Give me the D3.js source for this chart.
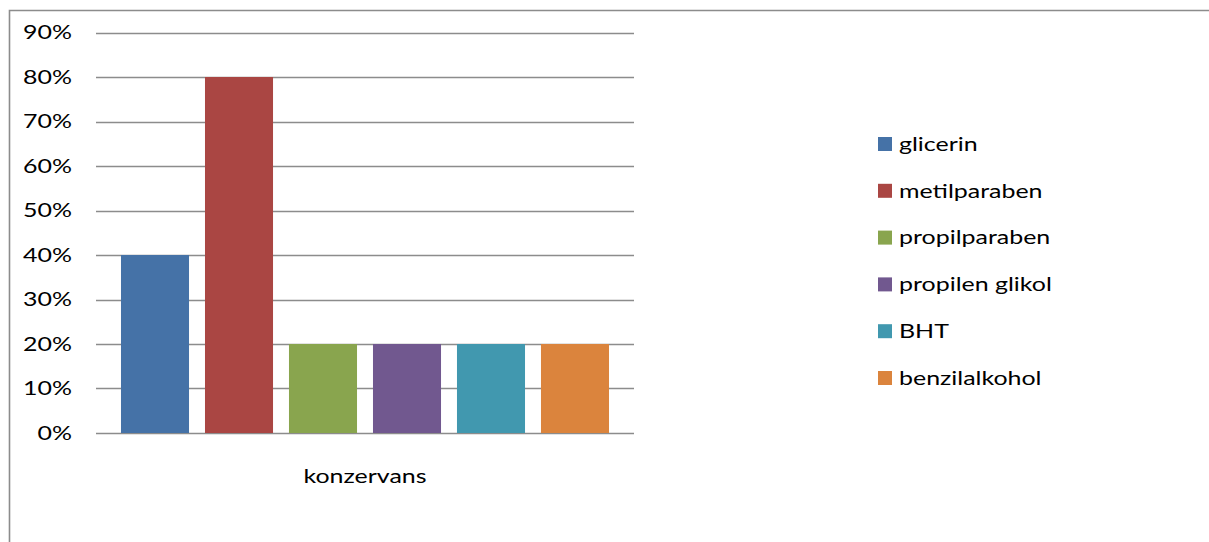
<!DOCTYPE html>
<html>
<head>
<meta charset="utf-8">
<script src="https://cdn.jsdelivr.net/npm/d3@7"></script>
<style>
  html, body { margin: 0; padding: 0; background: #fff; }
  svg { display: block; }
  text { font-family: Lato, "Open Sans", sans-serif; fill: #000; }
</style>
</head>
<body>
<svg id="chart" width="1209" height="542"></svg>
<script>
// Preservative usage shares (fraction of products)
const categories = ["konzervans"];
const seriesNames = ["glicerin", "metilparaben", "propilparaben", "propilen glikol", "BHT", "benzilalkohol"];
const seriesValues = [0.40, 0.80, 0.20, 0.20, 0.20, 0.20];
const seriesColors = ["#4572A7", "#AA4643", "#89A54E", "#71588F", "#4198AF", "#DB843D"];
const yTicks = [0, 0.1, 0.2, 0.3, 0.4, 0.5, 0.6, 0.7, 0.8, 0.9];

const svg = d3.select("#chart");
const plot = { left: 96, right: 634, top: 32.5, bottom: 433 };
const stretch = 1.28; // horizontal text widening
const fontSize = 19.5;

// outer frame (only top and left edges fall inside the view)
svg.append("path")
  .attr("d", "M9.5,560V10.5H1220")
  .attr("fill", "none").attr("stroke", "#8c8c8c").attr("stroke-width", 1.6);

const y = d3.scaleLinear().domain([0, 0.9]).range([plot.bottom, plot.top]);
const x0 = d3.scaleBand().domain(categories).range([plot.left, plot.right]).paddingOuter(0.0512).paddingInner(0);
const x1 = d3.scaleBand().domain(seriesNames).range([0, x0.bandwidth()]).paddingInner(0.19).paddingOuter(0);

// horizontal gridlines
svg.append("g").selectAll("line").data(yTicks).join("line")
  .attr("x1", plot.left).attr("x2", plot.right)
  .attr("y1", d => Math.round(y(d)) + 0.5).attr("y2", d => Math.round(y(d)) + 0.5)
  .attr("stroke", "#8c8c8c").attr("stroke-width", 1.4);

// y tick labels
const fmt = d3.format(".0%");
svg.append("g").selectAll("text").data(yTicks).join("text")
  .attr("transform", d => `translate(72,${y(d)}) scale(${stretch},1)`)
  .attr("text-anchor", "end").attr("dy", "0.35em")
  .attr("font-size", fontSize)
  .text(d => fmt(d));

// bars
const g = svg.append("g").selectAll("g").data(categories).join("g")
  .attr("transform", d => `translate(${x0(d)},0)`);
g.selectAll("rect").data(seriesNames.map((n, i) => ({ n, v: seriesValues[i], c: seriesColors[i] })))
  .join("rect")
  .attr("x", d => x1(d.n)).attr("width", x1.bandwidth())
  .attr("y", d => y(d.v)).attr("height", d => y(0) - y(d.v))
  .attr("fill", d => d.c);

// category label
svg.append("g").selectAll("text").data(categories).join("text")
  .attr("transform", d => `translate(${x0(d) + x0.bandwidth() / 2},476) scale(${stretch},1)`)
  .attr("text-anchor", "middle").attr("dy", "0.35em")
  .attr("font-size", fontSize)
  .text(d => d);

// legend
const legend = svg.append("g").selectAll("g").data(seriesNames).join("g")
  .attr("transform", (d, i) => `translate(878,${144 + i * 46.8})`);
legend.append("rect").attr("x", 0).attr("y", -7).attr("width", 14).attr("height", 14)
  .attr("fill", (d, i) => seriesColors[i]);
legend.append("text")
  .attr("transform", `translate(21,0) scale(${stretch},1)`)
  .attr("dy", "0.35em").attr("font-size", fontSize)
  .text(d => d);
</script>
</body>
</html>
